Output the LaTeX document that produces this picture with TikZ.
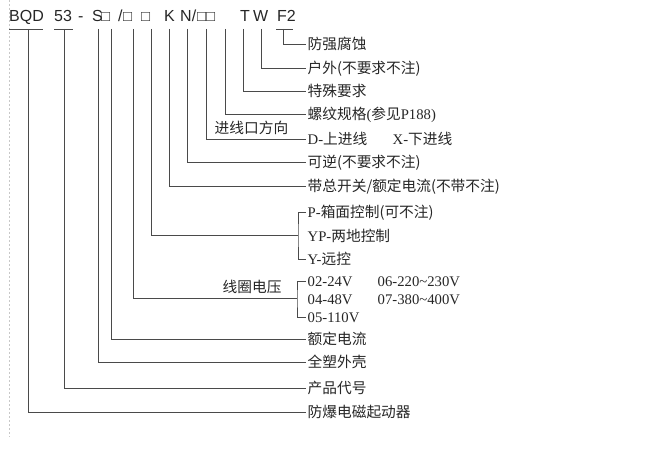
\documentclass[tikz,border=0pt]{standalone}
\usepackage{fontspec}
\setmainfont{Liberation Serif}
\newfontfamily\cjkf{Noto Sans CJK SC}
\newfontfamily\hdrf{Liberation Sans}
\newcommand{\zhs}[1]{{\cjkf #1}}
\definecolor{txt}{HTML}{262626}
\definecolor{ln}{HTML}{4A4A4A}
\definecolor{dsh}{HTML}{C8C8C8}
\begin{document}
\begin{tikzpicture}[x=1pt,y=-1pt,
  hdr/.style={anchor=base west,inner sep=0pt,font=\hdrf\fontsize{16}{16}\selectfont,text=txt},
  hsq/.style={anchor=base west,inner sep=0pt,font=\hdrf\fontsize{15}{15}\selectfont,text=txt},
  lab/.style={anchor=west,inner xsep=1.5pt,inner ysep=0pt,text height=11pt,text depth=0pt,font=\fontsize{14.7}{15}\selectfont,text=txt},
  conn/.style={draw=ln,line width=0.95pt}
]
\useasboundingbox (0,0) rectangle (658,454);
% left dashed guide
\coordinate (g1) at (9.5,0);
\coordinate (g2) at (9.5,437);
\draw[dsh,line width=0.7pt,dash pattern=on 2pt off 2pt] (g1) -- (g2);

% header
\node[hdr] (hBQD) at (9,22) {BQD};
\node[hdr] (h53) at (54,22) {53};
\node[hdr] (hdash) at (78,22) {-};
\node[hdr] (hS) at (92,22) {S};
\node[hsq] (hq1) at (101,22) {□};
\node[hdr] (hA) at (118,22) {/};
\node[hsq] (hq2) at (123,22) {□};
\node[hsq] (hq3) at (141,22) {□};
\node[hdr] (hK) at (164,22) {K};
\node[hdr] (hN) at (180,22) {N/};
\node[hsq] (hq4) at (197,22) {□};
\node[hsq] (hq5) at (206,22) {□};
\node[hdr] (hT) at (240,22) {T};
\node[hdr] (hW) at (253,22) {W};
\node[hdr] (hF) at (277,22) {F2};

% underlines
\coordinate (u1a) at (9,29);  \coordinate (u1b) at (43,29);
\coordinate (u2a) at (54,29); \coordinate (u2b) at (73,29);
\coordinate (u3a) at (276,29); \coordinate (u3b) at (293,29);
\draw[conn] (u1a) -- (u1b);
\draw[conn] (u2a) -- (u2b);
\draw[conn] (u3a) -- (u3b);

% tops of the verticals
\coordinate (t28) at (28,29);
\coordinate (t64) at (64,29);
\coordinate (t98) at (98,29);
\coordinate (t111) at (111,29);
\coordinate (t133) at (133,29);
\coordinate (t151) at (151,29);
\coordinate (t169) at (169,29);
\coordinate (t187) at (187,29);
\coordinate (t206) at (206,29);
\coordinate (t225) at (225,29);
\coordinate (t243) at (243,29);
\coordinate (t261) at (261,29);
\coordinate (t283) at (283,29);

% labels
\node[lab] (l1) at (306,44) {\zhs{防强腐蚀}};
\node[lab] (l2) at (306,68) {\zhs{户外(不要求不注)}};
\node[lab] (l3) at (306,91) {\zhs{特殊要求}};
\node[lab] (l4) at (306,114) {\zhs{螺纹规格}(\zhs{参见}P188)};
\node[lab] (l5) at (306,139) {D-\zhs{上进线}};
\node[lab] (l5b) at (391,139) {X-\zhs{下进线}};
\node[lab] (l5t) at (213,128) {\zhs{进线口方向}};
\node[lab] (l6) at (306,162) {\zhs{可逆(不要求不注)}};
\node[lab] (l7) at (306,186) {\zhs{带总开关/额定电流(不带不注)}};
\node[lab] (lP) at (306,212) {P-\zhs{箱面控制(可不注)}};
\node[lab] (lYP) at (306,236) {YP-\zhs{两地控制}};
\node[lab] (lY) at (306,259) {Y-\zhs{远控}};
\node[lab] (lCt) at (221,287) {\zhs{线圈电压}};
\node[lab] (c02) at (306,281) {02-24V};
\node[lab] (c06) at (376,281) {06-220\textasciitilde 230V};
\node[lab] (c04) at (306,299) {04-48V};
\node[lab] (c07) at (376,299) {07-380\textasciitilde 400V};
\node[lab] (c05) at (306,317) {05-110V};
\node[lab] (l9) at (306,339) {\zhs{额定电流}};
\node[lab] (l10) at (306,362) {\zhs{全塑外壳}};
\node[lab] (l11) at (306,388) {\zhs{产品代号}};
\node[lab] (l12) at (306,412) {\zhs{防爆电磁起动器}};

% bracket junctions
\coordinate (bP) at (298,235);
\coordinate (bC) at (297,298);

% connectors
\draw[conn] (t283) |- (l1.west);
\draw[conn] (t261) |- (l2.west);
\draw[conn] (t243) |- (l3.west);
\draw[conn] (t225) |- (l4.west);
\draw[conn] (t206) |- (l5.west);
\draw[conn] (t187) |- (l6.west);
\draw[conn] (t169) |- (l7.west);
\draw[conn] (t151) |- (bP);
\draw[conn] (lP.west) -| (bP) |- (lY.west);
\draw[conn] (t133) |- (bC);
\draw[conn] (c02.west) -| (bC) |- (c05.west);
\draw[conn] (t111) |- (l9.west);
\draw[conn] (t98) |- (l10.west);
\draw[conn] (t64) |- (l11.west);
\draw[conn] (t28) |- (l12.west);
\end{tikzpicture}
\end{document}
